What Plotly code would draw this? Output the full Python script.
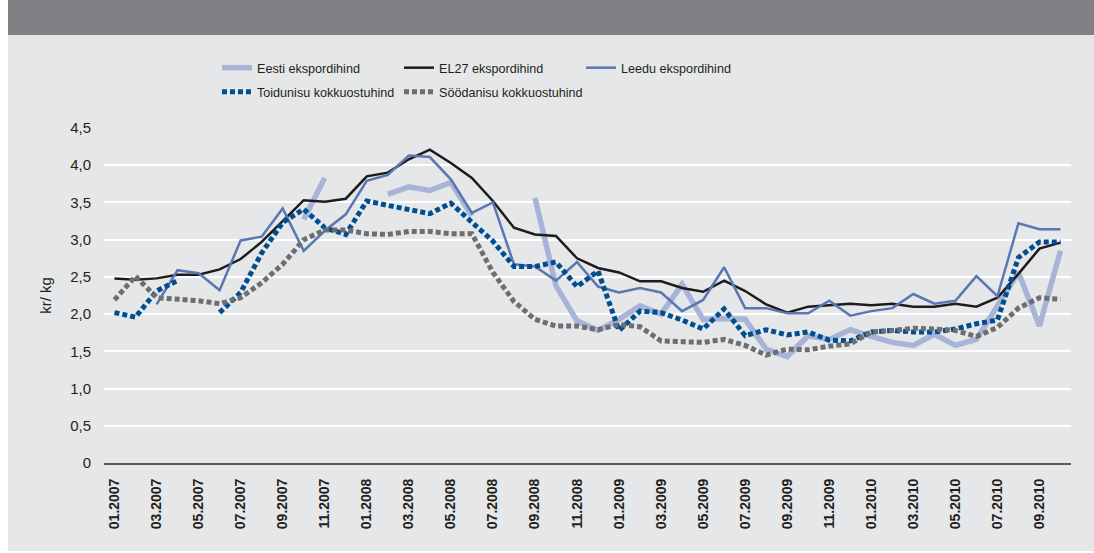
import plotly.graph_objects as go

months = [f"{m:02d}.{y}" for y in (2007, 2008, 2009, 2010) for m in range(1, 13)][:46]
tick_labels = months[::2]

eesti = [None, None, None, None, None, None, None, None, None, 3.27, 3.83, None, None,
         3.61, 3.71, 3.66, 3.77, 3.32, None, None, 3.56, 2.38, 1.91, 1.78, 1.93, 2.11, 2.00, 2.40, 1.93, 1.94,
         1.93, 1.53, 1.43, 1.71, 1.66, 1.79, 1.70, 1.62, 1.58, 1.73, 1.58, 1.66, 2.11, 2.56, 1.84, 2.85]
el27 = [2.48, 2.46, 2.48, 2.53, 2.53, 2.60, 2.74, 2.97, 3.25, 3.53, 3.51, 3.55, 3.85,
        3.90, 4.08, 4.21, 4.03, 3.83, 3.52, 3.16, 3.07, 3.05, 2.75, 2.62, 2.56, 2.44, 2.44, 2.35, 2.30, 2.45,
        2.31, 2.13, 2.02, 2.10, 2.12, 2.14, 2.12, 2.14, 2.10, 2.10, 2.14, 2.10, 2.22, 2.54, 2.88, 2.96]
leedu = [None, None, 2.13, 2.59, 2.55, 2.32, 2.99, 3.04, 3.42, 2.85, 3.12, 3.34, 3.79,
         3.87, 4.13, 4.11, 3.81, 3.36, 3.50, 2.67, 2.64, 2.45, 2.70, 2.37, 2.29, 2.35, 2.29, 2.04, 2.19, 2.63,
         2.08, 2.08, 2.01, 2.01, 2.18, 1.98, 2.04, 2.08, 2.27, 2.14, 2.18, 2.51, 2.24, 3.22, 3.14, 3.14]
toidu = [2.02, 1.96, 2.31, 2.45, None, 2.02, 2.29, 2.82, 3.23, 3.41, 3.16, 3.07, 3.52,
         3.46, 3.41, 3.35, 3.49, 3.23, 2.98, 2.64, 2.64, 2.70, 2.37, 2.58, 1.78, 2.04, 2.02, 1.92, 1.80, 2.07,
         1.71, 1.79, 1.72, 1.76, 1.65, 1.64, 1.76, 1.78, 1.76, 1.76, 1.80, 1.87, 1.92, 2.76, 2.97, 2.97]
sooda = [2.19, 2.51, 2.22, 2.20, 2.18, 2.14, 2.22, 2.42, 2.67, 3.00, 3.13, 3.13, 3.08,
         3.07, 3.11, 3.11, 3.08, 3.08, 2.56, 2.17, 1.93, 1.84, 1.84, 1.79, 1.86, 1.83, 1.64, 1.63, 1.62, 1.66,
         1.58, 1.45, 1.53, 1.52, 1.57, 1.60, 1.76, 1.78, 1.81, 1.80, 1.78, 1.70, 1.82, 2.08, 2.22, 2.20]

W, H = 1094, 553
L, R, T, B = 104, 1071, 128, 463
pw, ph = R - L, B - T

def px(x):
    return (x - L) / pw

def py(y):
    return (B - y) / ph

series = [
    ("Eesti ekspordihind", eesti, dict(color="#a7b4d8", width=5.5), "legend", 217, 53),
    ("EL27 ekspordihind", el27, dict(color="#1d1b1c", width=2.5), "legend2", 399, 53),
    ("Leedu ekspordihind", leedu, dict(color="#5a77b3", width=2.5), "legend3", 581, 53),
    ("Toidunisu kokkuostuhind", toidu, dict(color="#004d8f", width=5, dash="5px,3px"), "legend4", 217, 77),
    ("Söödanisu kokkuostuhind", sooda, dict(color="#6d6e71", width=5, dash="5px,3px"), "legend5", 399, 77),
]

font = dict(family="Arial, Liberation Sans, sans-serif", color="#231f20")
lfont = dict(family="Arial, Liberation Sans, sans-serif", color="#231f20", size=12.6)

fig = go.Figure()
legends = {}
for name, vals, line, lg, lx, ly in series:
    fig.add_trace(go.Scatter(x=months, y=vals, name=name, mode="lines", line=line, legend=lg))
    legends[lg] = dict(orientation="h", x=px(lx), xanchor="left", y=py(ly), yanchor="top",
                       bgcolor="rgba(0,0,0,0)", font=lfont, itemwidth=30)

fig.update_layout(
    width=W, height=H,
    margin=dict(l=L, r=W - R, t=T, b=H - B),
    paper_bgcolor="#ffffff",
    plot_bgcolor="rgba(0,0,0,0)",
    font=dict(**font, size=14),
    shapes=[
        dict(type="rect", xref="paper", yref="paper", x0=px(8), x1=px(W + 2), y0=py(551), y1=py(-2),
             fillcolor="#e6e7e8", line=dict(width=0), layer="below"),
        dict(type="rect", xref="paper", yref="paper", x0=px(8), x1=px(W + 2), y0=py(35), y1=py(-2),
             fillcolor="#808184", line=dict(width=0), layer="below"),
    ],
    xaxis=dict(type="category", range=[-0.5, 45.5], tickmode="array", tickvals=tick_labels,
               ticktext=[f"<b>{t}</b>" for t in tick_labels], tickangle=-90,
               tickfont=dict(**font, size=14), showgrid=False, showline=True,
               linecolor="#58595b", linewidth=2, ticks="", ticklabelstandoff=8, zeroline=False),
    yaxis=dict(range=[0, 4.5], tickvals=[0, 0.5, 1, 1.5, 2, 2.5, 3, 3.5, 4, 4.5],
               ticktext=["0", "0,5", "1,0", "1,5", "2,0", "2,5", "3,0", "3,5", "4,0", "4,5"],
               tickfont=dict(**font, size=15), gridcolor="#ffffff", gridwidth=2,
               showline=False, zeroline=False, ticks="", ticklabelstandoff=12,
               title=dict(text="kr/ kg", font=dict(**font, size=15), standoff=14)),
    showlegend=True,
    **legends,
)

fig.write_html("out.html", config={"displayModeBar": False},
               post_script="document.body.style.margin='0px';")
